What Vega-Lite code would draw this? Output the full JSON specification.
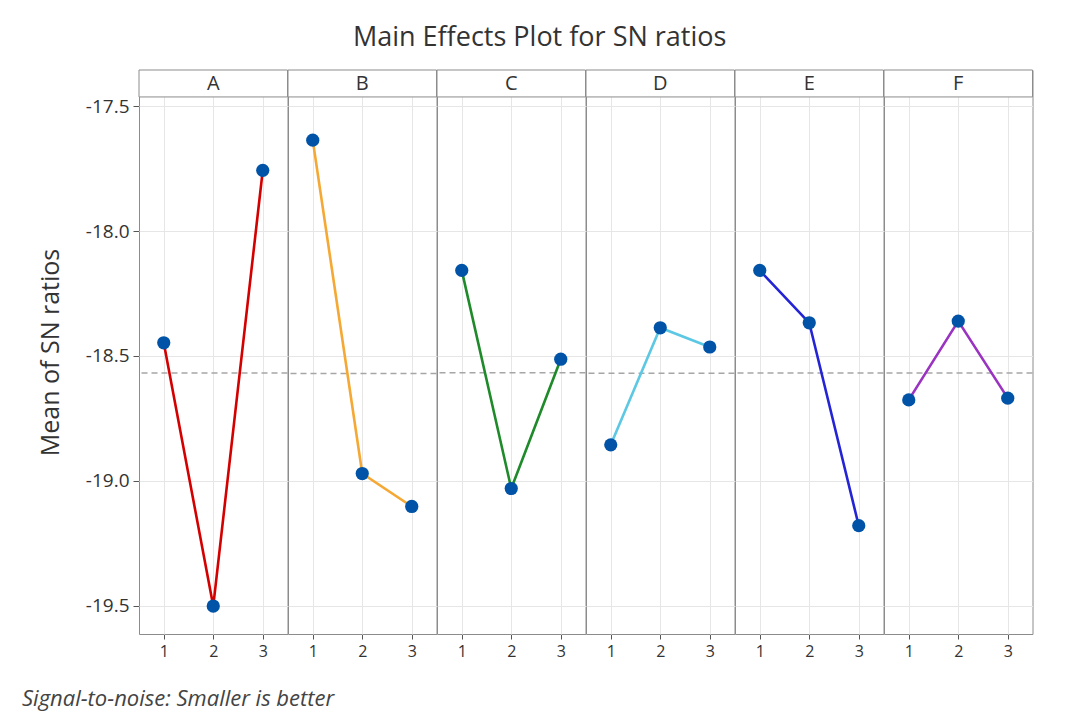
{
  "$schema": "https://vega.github.io/schema/vega-lite/v6.json",
  "padding": {"left": 21, "top": 24, "right": 5, "bottom": 5},
  "background": "white",
  "title": {"text": "Main Effects Plot for SN ratios", "anchor": "middle", "frame": "bounds", "dx": 12, "offset": 17, "fontSize": 27, "fontWeight": "normal", "font": "Open Sans", "color": "#333333"},
  "data": {"values": [
    {"Factor": "A", "Level": 1, "SN": -18.447},
    {"Factor": "A", "Level": 2, "SN": -19.502},
    {"Factor": "A", "Level": 3, "SN": -17.756},
    {"Factor": "B", "Level": 1, "SN": -17.635},
    {"Factor": "B", "Level": 2, "SN": -18.971},
    {"Factor": "B", "Level": 3, "SN": -19.103},
    {"Factor": "C", "Level": 1, "SN": -18.157},
    {"Factor": "C", "Level": 2, "SN": -19.031},
    {"Factor": "C", "Level": 3, "SN": -18.513},
    {"Factor": "D", "Level": 1, "SN": -18.856},
    {"Factor": "D", "Level": 2, "SN": -18.387},
    {"Factor": "D", "Level": 3, "SN": -18.464},
    {"Factor": "E", "Level": 1, "SN": -18.157},
    {"Factor": "E", "Level": 2, "SN": -18.367},
    {"Factor": "E", "Level": 3, "SN": -19.18},
    {"Factor": "F", "Level": 1, "SN": -18.676},
    {"Factor": "F", "Level": 2, "SN": -18.36},
    {"Factor": "F", "Level": 3, "SN": -18.669}
  ]},
  "facet": {"column": {"field": "Factor", "type": "nominal", "header": null}},
  "spacing": {"column": 0},
  "bounds": "flush",
  "spec": {
    "width": 148.5,
    "height": 564,
    "layer": [
      {
        "transform": [{"filter": "datum.Level == 1"}],
        "mark": {"type": "rect", "fill": "white", "stroke": "#8c8c8c", "strokeWidth": 1},
        "encoding": {
          "x": {"datum": 0.5, "type": "quantitative", "scale": {"domain": [0.5, 3.5], "nice": false, "zero": false},
                "axis": {"values": [1, 2, 3], "format": "d", "title": null, "domain": false, "tickSize": 5, "tickColor": "#555555", "labelFontSize": 16, "labelFont": "Open Sans", "labelColor": "#333333", "labelPadding": 4, "gridColor": "#e6e6e6", "grid": true}},
          "x2": {"datum": 3.5},
          "y": {"datum": -17.462, "type": "quantitative", "scale": {"domain": [-19.614, -17.354], "nice": false, "zero": false},
                "axis": {"values": [-19.5, -19.0, -18.5, -18.0, -17.5], "labelExpr": "replace(format(datum.value, '.1f'), '\u2212', '-')", "title": "Mean of SN ratios", "titleFontSize": 25, "titleFontWeight": "normal", "titleFont": "Open Sans", "titleColor": "#333333", "titlePadding": 22, "domain": false, "tickSize": 6, "tickColor": "#555555", "labelFontSize": 19, "labelFont": "Open Sans", "labelColor": "#333333", "labelPadding": 4, "gridColor": "#e6e6e6", "grid": true}},
          "y2": {"datum": -17.354}
        }
      },
      {
        "mark": {"type": "rule", "strokeDash": [6, 4], "color": "#a6a6a6", "strokeWidth": 1.5},
        "encoding": {"y": {"aggregate": "mean", "field": "SN", "type": "quantitative"}}
      },
      {
        "mark": {"type": "line", "strokeWidth": 2.6},
        "encoding": {
          "x": {"field": "Level", "type": "quantitative"},
          "y": {"field": "SN", "type": "quantitative"},
          "color": {"field": "Factor", "type": "nominal", "legend": null,
                    "scale": {"domain": ["A", "B", "C", "D", "E", "F"], "range": ["#d40000", "#f5a833", "#1f8a2a", "#5cc8e3", "#2424d6", "#9a33c2"]}}
        }
      },
      {
        "mark": {"type": "point", "filled": true, "opacity": 1, "size": 175, "color": "#0053a6"},
        "encoding": {
          "x": {"field": "Level", "type": "quantitative"},
          "y": {"field": "SN", "type": "quantitative"}
        }
      },
      {
        "transform": [{"filter": "datum.Level == 2"}],
        "mark": {"type": "text", "fontSize": 20, "font": "Open Sans", "color": "#333333", "baseline": "middle", "dy": 1},
        "encoding": {
          "x": {"field": "Level", "type": "quantitative"},
          "y": {"datum": -17.406},
          "text": {"field": "Factor"}
        }
      },
      {
        "transform": [{"filter": "datum.Factor == 'A' && datum.Level == 1"}],
        "mark": {"type": "text", "text": "Signal-to-noise: Smaller is better", "fontSize": 22, "font": "Open Sans", "fontStyle": "italic", "color": "#444444", "align": "left", "baseline": "middle", "dx": -117, "dy": 65},
        "encoding": {
          "x": {"datum": 0.5},
          "y": {"datum": -19.614}
        }
      }
    ]
  },
  "config": {
    "view": {"stroke": "#8c8c8c", "strokeWidth": 1},
    "axis": {"gridWidth": 1}
  }
}
